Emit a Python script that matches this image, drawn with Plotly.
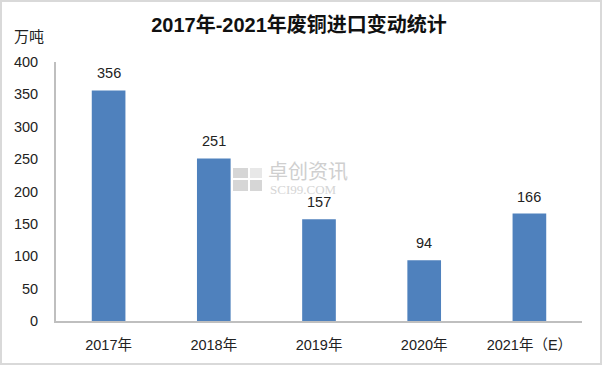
import plotly.graph_objects as go

categories = ["2017年", "2018年", "2019年", "2020年", "2021年（E）"]
values = [356, 251, 157, 94, 166]
yticks = [0, 50, 100, 150, 200, 250, 300, 350, 400]

W, H = 602, 365
L, R, T, B = 56, 20, 62, 44
pw, ph = W - L - R, H - T - B

def px(x):
    return (x - L) / pw

def py(y):
    return (H - B - y) / ph

font_num = "'Liberation Sans', Arial, sans-serif"
font_cjk = "'Liberation Sans', 'Noto Sans CJK SC', sans-serif"

fig = go.Figure(go.Bar(
    x=categories, y=values, width=0.32,
    marker=dict(color="#4F81BD", line=dict(width=0)),
    cliponaxis=False,
))

label_anns = [
    dict(text=str(v), x=c, y=v, xref="x", yref="y", showarrow=False,
         yanchor="middle", yshift=17,
         font=dict(size=14.5, color="#222222", family=font_num))
    for c, v in zip(categories, values)
]

fig.update_layout(
    width=W, height=H,
    margin=dict(l=L, r=R, t=T, b=B),
    paper_bgcolor="white", plot_bgcolor="white",
    showlegend=False,
    title=dict(text="<b>2017年-2021年废铜进口变动统计</b>", x=299 / W, xanchor="center",
               xref="container", y=1 - 25 / H, yanchor="middle",
               font=dict(size=20, color="#111111", family=font_cjk)),
    xaxis=dict(showline=True, linecolor="#BFBFBF", linewidth=2, ticks="", showgrid=False,
               ticklabelstandoff=10,
               tickfont=dict(size=14.5, color="#222222", family=font_cjk)),
    yaxis=dict(range=[0, 400], tickvals=yticks, showline=True, linecolor="#BFBFBF", linewidth=2,
               showgrid=False, zeroline=False, ticks="", ticklabelstandoff=13,
               tickfont=dict(size=14.5, color="#222222", family=font_num)),
    annotations=label_anns + [
        dict(text="万吨", xref="paper", yref="paper", x=px(12), y=py(35), xanchor="left", yanchor="middle",
             showarrow=False, font=dict(size=15, color="#222222", family="'Noto Sans CJK SC', sans-serif")),
        dict(text="卓创资讯", xref="paper", yref="paper", x=px(266), y=py(170), xanchor="left", yanchor="middle",
             showarrow=False, font=dict(size=20, color="#CFCFCF", family="'Noto Sans CJK SC', sans-serif")),
        dict(text="SCI99.COM", xref="paper", yref="paper", x=px(268), y=py(189), xanchor="left", yanchor="middle",
             showarrow=False, font=dict(size=13, color="#D5D5D5", family="'Liberation Serif', serif")),
    ],
    shapes=[
        dict(type="rect", xref="paper", yref="paper", x0=px(1), x1=px(601), y0=py(364), y1=py(1),
             line=dict(color="#D9D9D9", width=2), fillcolor="rgba(0,0,0,0)", layer="below"),
        dict(type="rect", xref="paper", yref="paper", x0=px(233), x1=px(248), y0=py(178), y1=py(168),
             line=dict(width=0), fillcolor="#D6D6D6", layer="below"),
        dict(type="rect", xref="paper", yref="paper", x0=px(250), x1=px(262), y0=py(178), y1=py(168),
             line=dict(width=0), fillcolor="#E8E8E8", layer="below"),
        dict(type="rect", xref="paper", yref="paper", x0=px(233), x1=px(248), y0=py(191), y1=py(180),
             line=dict(width=0), fillcolor="#D6D6D6", layer="below"),
        dict(type="rect", xref="paper", yref="paper", x0=px(250), x1=px(262), y0=py(191), y1=py(180),
             line=dict(width=0), fillcolor="#D6D6D6", layer="below"),
    ],
)

fig.write_html("out.html", config={"displayModeBar": False},
               post_script="document.body.style.margin='0px';")
